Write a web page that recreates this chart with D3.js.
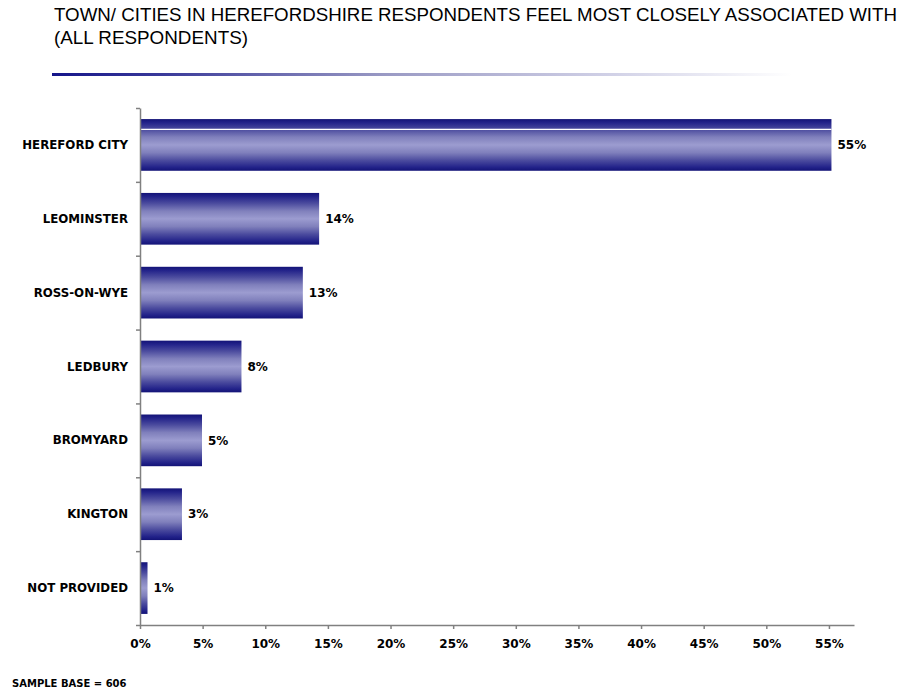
<!DOCTYPE html>
<html>
<head>
<meta charset="utf-8">
<script src="https://cdn.jsdelivr.net/npm/d3@7"></script>
<style>
  html, body { margin: 0; padding: 0; background: #fff; }
  svg { display: block; }
</style>
</head>
<body>
<svg id="chart" width="901" height="692"></svg>
<script>
const categories = ["HEREFORD CITY", "LEOMINSTER", "ROSS-ON-WYE", "LEDBURY", "BROMYARD", "KINGTON", "NOT PROVIDED"];
const values = [55.2, 14.3, 13.0, 8.1, 4.95, 3.35, 0.6];
const valueLabels = ["55%", "14%", "13%", "8%", "5%", "3%", "1%"];
const tickValues = [0, 5, 10, 15, 20, 25, 30, 35, 40, 45, 50, 55];
const titleLines = ["TOWN/ CITIES IN HEREFORDSHIRE RESPONDENTS FEEL MOST CLOSELY ASSOCIATED WITH", "(ALL RESPONDENTS)"];
const footnote = "SAMPLE BASE = 606";

const svg = d3.select("#chart");
const defs = svg.append("defs");

// bar gradient
const bg = defs.append("linearGradient").attr("id", "barGrad")
  .attr("x1", 0).attr("y1", 0).attr("x2", 0).attr("y2", 1);
[[0, "#131377"], [0.07, "#23238a"], [0.2, "#4b4b9e"], [0.35, "#8080bc"], [0.5, "#9c9cd0"],
 [0.65, "#8080bc"], [0.8, "#4b4b9e"], [0.93, "#23238a"], [1, "#131377"]]
  .forEach(([o, c]) => bg.append("stop").attr("offset", o).attr("stop-color", c));

// title underline gradient
const tg = defs.append("linearGradient").attr("id", "titleGrad")
  .attr("x1", 0).attr("y1", 0).attr("x2", 1).attr("y2", 0);
[[0, "#15158a"], [0.15, "#3a3a9a"], [0.45, "#9a9ac4"], [0.75, "#d0d0e6"], [1, "#ffffff"]]
  .forEach(([o, c]) => tg.append("stop").attr("offset", o).attr("stop-color", c));

// Title
const titleWidths = [843, 194];
titleLines.forEach((t, i) => {
  svg.append("text")
    .attr("x", 54).attr("y", 21 + i * 22.7)
    .attr("font-family", "Liberation Sans, Arial, sans-serif")
    .attr("font-size", 17.5)
    .attr("fill", "#000")
    .attr("textLength", titleWidths[i])
    .attr("lengthAdjust", "spacingAndGlyphs")
    .text(t);
});
svg.append("rect").attr("x", 52).attr("y", 73).attr("width", 740).attr("height", 3)
  .attr("fill", "url(#titleGrad)");

// Scales
const x = d3.scaleLinear().domain([0, 57]).range([140, 854]);
const y = d3.scaleBand().domain(categories).range([108, 625]).paddingInner(0.3).paddingOuter(0.15);
const yIdx = d3.scaleLinear().domain([0, categories.length]).range([108, 625]);

const font = "DejaVu Sans, Verdana, sans-serif";

// Bars
svg.append("g").selectAll("rect").data(categories).join("rect")
  .attr("x", x(0))
  .attr("y", d => y(d))
  .attr("width", (d, i) => x(values[i]) - x(0))
  .attr("height", y.bandwidth())
  .attr("fill", "url(#barGrad)");

// highlight line on first bar
svg.append("line")
  .attr("x1", x(0)).attr("x2", x(values[0]))
  .attr("y1", y(categories[0]) + y.bandwidth() * 0.2)
  .attr("y2", y(categories[0]) + y.bandwidth() * 0.2)
  .attr("stroke", "#ffffff").attr("stroke-width", 1.2);

// Value labels
svg.append("g").selectAll("text").data(categories).join("text")
  .attr("x", (d, i) => x(values[i]) + 6)
  .attr("y", d => y(d) + y.bandwidth() / 2)
  .attr("dy", "0.35em")
  .attr("font-family", font).attr("font-size", 12).attr("font-weight", "bold")
  .attr("fill", "#000")
  .text((d, i) => valueLabels[i]);

// Category labels
svg.append("g").selectAll("text").data(categories).join("text")
  .attr("x", 128)
  .attr("y", d => y(d) + y.bandwidth() / 2)
  .attr("dy", "0.35em")
  .attr("text-anchor", "end")
  .attr("font-family", font).attr("font-size", 11.8).attr("font-weight", "bold")
  .attr("fill", "#000")
  .text(d => d);

// Y axis
const yAxis = svg.append("g").attr("transform", `translate(${x(0)},0)`)
  .call(d3.axisLeft(yIdx).tickValues(d3.range(categories.length + 1)).tickFormat("").tickSize(4).tickSizeOuter(0));
yAxis.selectAll("path, line").attr("stroke", "#808080").attr("stroke-width", 1.5);

// X axis
const xAxis = svg.append("g").attr("transform", `translate(0,625)`)
  .call(d3.axisBottom(x).tickValues(tickValues).tickFormat(d => d + "%").tickSize(4).tickSizeOuter(0).tickPadding(10));
xAxis.selectAll("path, line").attr("stroke", "#808080").attr("stroke-width", 1.5);
xAxis.selectAll("text").attr("font-family", font).attr("font-size", 12).attr("font-weight", "bold").attr("fill", "#000");

// Footnote
svg.append("text")
  .attr("x", 12).attr("y", 687)
  .attr("font-family", font).attr("font-size", 10).attr("font-weight", "bold")
  .attr("fill", "#000")
  .text(footnote);
</script>
</body>
</html>
